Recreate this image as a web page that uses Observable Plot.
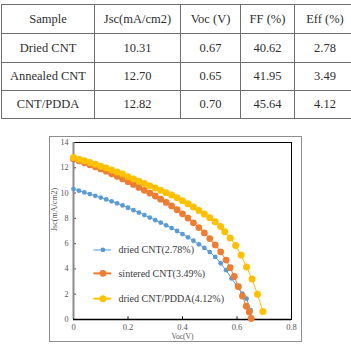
<!DOCTYPE html>
<html>
<head>
<meta charset="utf-8">
<script src="https://cdn.jsdelivr.net/npm/d3@7"></script>
<script src="https://cdn.jsdelivr.net/npm/@observablehq/plot@0.6"></script>
<style>
  html, body { margin: 0; padding: 0; background: #fff; }
  body { width: 351px; height: 347px; position: relative; overflow: hidden;
         font-family: "Liberation Serif", "Times New Roman", Times, serif; }
  table { position: absolute; left: 1px; top: 4px; border-collapse: collapse;
          table-layout: fixed; width: 349px; color: #2e2e2e; }
  td { border: 1px solid #6e6e6e; text-align: center; padding: 0;
       font-family: "Liberation Serif", "Times New Roman", Times, serif; font-size: 12.5px; }
  #frame { position: absolute; left: 49px; top: 136px; width: 251px; height: 204px;
           border: 1.5px solid #8e8e8e; }
  #chart { position: absolute; left: 0; top: 130px; }
</style>
</head>
<body>
<table id="tbl"></table>
<div id="frame"></div>
<div id="chart"></div>
<script>
// ---- summary table ----
const headers = ["Sample", "Jsc(mA/cm2)", "Voc (V)", "FF (%)", "Eff (%)"];
const samples = ["Dried CNT", "Annealed CNT", "CNT/PDDA"];
const jscVals = ["10.31", "12.70", "12.82"];
const vocVals = ["0.67", "0.65", "0.70"];
const ffVals  = ["40.62", "41.95", "45.64"];
const effVals = ["2.78", "3.49", "4.12"];

// ---- J-V curves ----
const seriesNames = ["dried CNT(2.78%)", "sintered CNT(3.49%)", "dried CNT/PDDA(4.12%)"];

const driedV = [0, 0.02, 0.04, 0.06, 0.08, 0.10, 0.12, 0.14, 0.16, 0.18, 0.20, 0.22, 0.24, 0.26, 0.28,
  0.30, 0.32, 0.34, 0.36, 0.38, 0.40, 0.42, 0.44, 0.46, 0.48, 0.50, 0.52, 0.54, 0.56, 0.58, 0.60,
  0.62, 0.635, 0.65];
const driedJ = [10.32, 10.19, 10.05, 9.92, 9.78, 9.64, 9.50, 9.35, 9.19, 9.02, 8.84, 8.65, 8.46, 8.26, 8.06,
  7.86, 7.66, 7.45, 7.23, 7.00, 6.76, 6.50, 6.23, 5.95, 5.66, 5.33, 4.95, 4.45, 3.90, 3.25, 2.65,
  2.05, 1.65, 0.73];

const sinteredV = [0, 0.02, 0.04, 0.06, 0.08, 0.10, 0.12, 0.14, 0.16, 0.18, 0.20, 0.22, 0.24, 0.26, 0.28,
  0.30, 0.32, 0.34, 0.36, 0.38, 0.40, 0.42, 0.44, 0.46, 0.48, 0.50, 0.52, 0.54, 0.56, 0.575, 0.59,
  0.605, 0.62, 0.634, 0.645, 0.652];
const sinteredJ = [12.70, 12.55, 12.40, 12.24, 12.08, 11.91, 11.73, 11.53, 11.33, 11.12, 10.90, 10.68, 10.45, 10.22, 10.00,
  9.77, 9.52, 9.26, 8.98, 8.68, 8.36, 8.02, 7.65, 7.27, 6.85, 6.40, 5.90, 5.35, 4.70, 4.10, 3.40,
  2.60, 1.85, 1.05, 0.60, 0.08];

const pddaV = [0, 0.02, 0.04, 0.06, 0.08, 0.10, 0.12, 0.14, 0.16, 0.18, 0.20, 0.22, 0.24, 0.26, 0.28,
  0.30, 0.32, 0.34, 0.36, 0.38, 0.40, 0.42, 0.44, 0.46, 0.48, 0.50, 0.52, 0.54, 0.555, 0.575, 0.595,
  0.615, 0.635, 0.655, 0.675, 0.695];
const pddaJ = [12.82, 12.68, 12.55, 12.41, 12.27, 12.12, 11.98, 11.83, 11.67, 11.50, 11.30, 11.12, 10.94, 10.76, 10.58,
  10.40, 10.22, 10.03, 9.84, 9.63, 9.40, 9.15, 8.90, 8.63, 8.35, 8.05, 7.73, 7.35, 6.95, 6.45, 5.85,
  5.10, 4.15, 3.20, 2.00, 0.64];

const xTicks = [0, 0.2, 0.4, 0.6, 0.8];
const yTicks = [0, 2, 4, 6, 8, 10, 12, 14];

// build the table
const tbl = document.getElementById("tbl");
const colWidths = [92, 85, 59, 53, 60];
const rowHeights = [29, 29, 28, 28];
const rows = [headers].concat(samples.map((s, i) => [s, jscVals[i], vocVals[i], ffVals[i], effVals[i]]));
rows.forEach((r, ri) => {
  const tr = document.createElement("tr");
  tr.style.height = rowHeights[ri] + "px";
  r.forEach((c, ci) => {
    const td = document.createElement("td");
    td.textContent = c;
    if (ri === 0) td.style.width = colWidths[ci] + "px";
    tr.appendChild(td);
  });
  tbl.appendChild(tr);
});

// chart
const colors = ["#5b9bd5", "#ed7d31", "#ffc000"];
const radii = [2.4, 3.4, 3.5];
const curves = [
  driedV.map((v, i) => ({v, j: driedJ[i]})),
  sinteredV.map((v, i) => ({v, j: sinteredJ[i]})),
  pddaV.map((v, i) => ({v, j: pddaJ[i]}))
];

// legend rows placed inside the plot area
const legendRowsY = [5.5, 3.65, 1.65];
const legend = seriesNames.map((name, i) => ({name, y: legendRowsY[i], c: colors[i], r: radii[i]}));

const font = "Liberation Serif, Times New Roman, serif";
const marks = [
  Plot.frame({stroke: "#000", strokeWidth: 1}),
  Plot.ruleY(yTicks.filter(t => t > 0 && t < 14), {y: d => d, x1: 0, x2: 0.011, stroke: "#444"}),
  Plot.ruleX(xTicks.filter(t => t > 0 && t < 0.8), {x: d => d, y1: 0, y2: 0.22, stroke: "#222"}),
  Plot.ruleX([0], {stroke: "#8a8a8a", strokeWidth: 2}),
  Plot.ruleY([0], {stroke: "#000", strokeWidth: 1.6}),
  Plot.axisX(xTicks, {tickSize: 0, tickPadding: 4, fontSize: 8.5, fill: "#555", label: null,
    tickFormat: d => String(d)}),
  Plot.axisY(yTicks, {tickSize: 0, tickPadding: 5, fontSize: 8, fill: "#555", label: null}),
  Plot.text(["Jsc(mA/cm2)"], {text: d => d, frameAnchor: "left", rotate: -90, dx: -19,
    fontSize: 8, fill: "#555"}),
  Plot.text(["Voc(V)"], {text: d => d, frameAnchor: "bottom", dy: 19,
    fontSize: 7.5, fill: "#555"})
];
curves.forEach((data, i) => {
  marks.push(Plot.line(data, {x: "v", y: "j", stroke: colors[i], strokeWidth: 1}));
  marks.push(Plot.dot(data, {x: "v", y: "j", r: radii[i], fill: colors[i], stroke: "none"}));
});
legend.forEach(d => {
  marks.push(Plot.ruleY([d], {y: "y", x1: 0.075, x2: 0.14, stroke: d.c, strokeWidth: d.r > 3 ? 2 : 1}));
  marks.push(Plot.dot([d], {x: 0.108, y: "y", r: d.r, fill: d.c}));
  marks.push(Plot.text([d], {x: 0.165, y: "y", text: "name", textAnchor: "start",
    fontSize: 10, fill: "#3a3a3a"}));
});

const chart = Plot.plot({
  width: 351,
  height: 217,
  marginLeft: 73,
  marginRight: 60,
  marginTop: 12,
  marginBottom: 28,
  x: {domain: [0, 0.8]},
  y: {domain: [0, 14]},
  style: {background: "transparent", overflow: "visible", fontFamily: font},
  marks
});
document.getElementById("chart").appendChild(chart);
</script>
</body>
</html>
